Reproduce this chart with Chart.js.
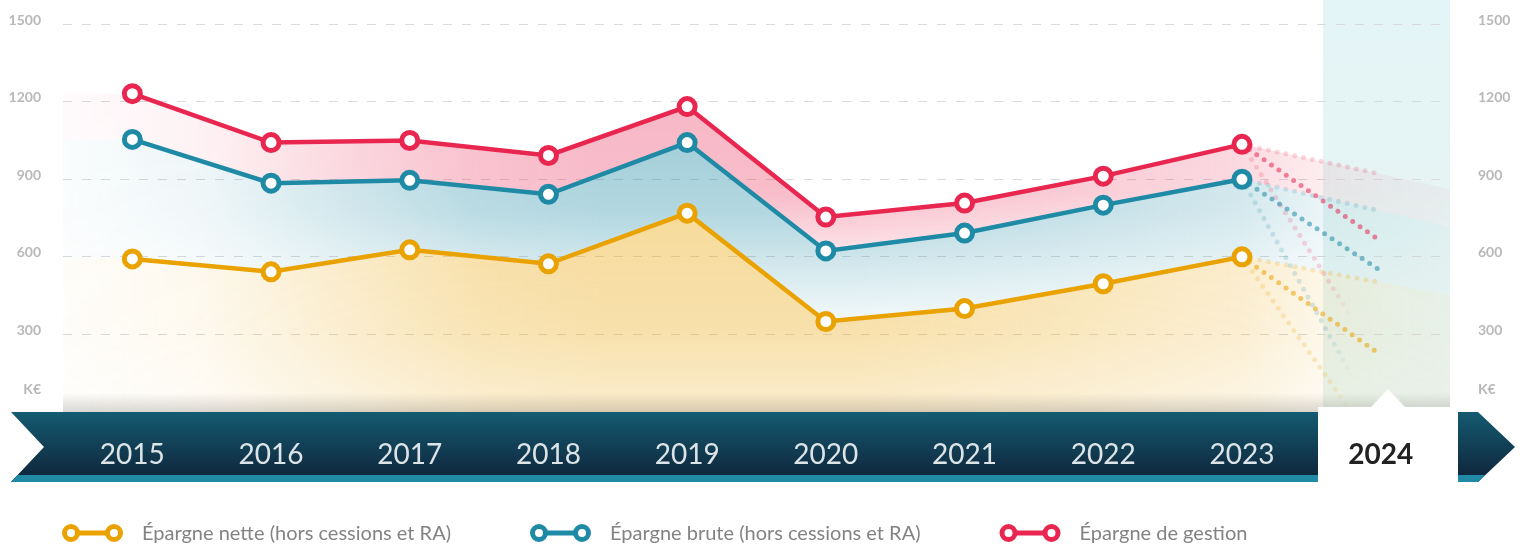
<!DOCTYPE html>
<html>
<head>
<meta charset="utf-8">
<script src="https://cdn.jsdelivr.net/npm/chart.js@4/dist/chart.umd.min.js"></script>
<style>
html, body { margin: 0; padding: 0; background: #fff; }
#wrap { width: 1520px; height: 544px; position: relative; }
</style>
</head>
<body>
<div id="wrap"><canvas id="epargneChart"></canvas></div>
<script>
const years = ["2015", "2016", "2017", "2018", "2019", "2020", "2021", "2022", "2023", "2024"];

const nette = [592, 542, 627, 573, 769, 350, 400, 496, 600];
const brute = [1054, 885, 896, 842, 1042, 623, 692, 800, 900];
const gestion = [1231, 1042, 1050, 992, 1181, 754, 808, 912, 1035];

// 2024 : prévision centrale, haute, basse
const netteProj = [221, 501, -160];
const bruteProj = [546, 777, -57];
const gestionProj = [661, 920, 190];

const yTickValues = [300, 600, 900, 1200, 1500];

const seriesNames = [
  "Épargne nette (hors cessions et RA)",
  "Épargne brute (hors cessions et RA)",
  "Épargne de gestion"
];

const ORANGE = "233,162,0";
const BLUE = "31,138,165";
const RED = "232,38,80";

const X_MIN = -0.5;
const X_MAX = 9.5;
const Y_MAX = 1543;
const KE_TICK = 70;
const LAST = nette.length - 1;

const rgba = (rgb, a) => "rgba(" + rgb + "," + a + ")";

// fondu horizontal commun aux aires
const fadeX = [
  [0, 0.06], [0.1, 0.2], [0.21, 0.6], [0.3, 0.9], [0.39, 1],
  [0.57, 1], [0.71, 0.8], [0.85, 0.55], [0.91, 0.25], [1, 0.12]
];

function bandFill(rgb, alpha, fadeY) {
  let cache = null;
  let cacheKey = "";
  return (c) => {
    const chart = c.chart;
    const area = chart.chartArea;
    if (!area) return "rgba(0,0,0,0)";
    const key = chart.width + "x" + area.top + "x" + area.bottom;
    if (cache && cacheKey === key) return cache;
    const off = document.createElement("canvas");
    off.width = chart.width;
    off.height = chart.height;
    const g = off.getContext("2d");
    const hg = g.createLinearGradient(area.left, 0, area.right, 0);
    fadeX.forEach(([t, a]) => hg.addColorStop(t, rgba(rgb, (a * alpha).toFixed(3))));
    g.fillStyle = hg;
    g.fillRect(0, 0, off.width, off.height);
    g.globalCompositeOperation = "destination-in";
    const vg = g.createLinearGradient(0, area.top, 0, area.bottom);
    fadeY.forEach(([t, a]) => vg.addColorStop(t, "rgba(0,0,0," + a + ")"));
    g.fillStyle = vg;
    g.fillRect(0, 0, off.width, off.height);
    cache = chart.ctx.createPattern(off, "no-repeat");
    cacheKey = key;
    return cache;
  };
}

function fillData(values, proj) {
  const slope = proj[1] - values[LAST];
  return [{x: X_MIN, y: values[0]}]
    .concat(values.map((v, i) => ({x: i, y: v})))
    .concat([{x: X_MAX, y: values[LAST] + slope * (X_MAX - LAST)}]);
}

function fadeStroke(c, rgb, alpha) {
  const chart = c.chart;
  const x = chart.scales.x;
  if (!chart.chartArea || !x) return rgba(rgb, alpha);
  const g = chart.ctx.createLinearGradient(
    x.getPixelForValue(LAST), 0, x.getPixelForValue(LAST + 1), 0
  );
  g.addColorStop(0, rgba(rgb, alpha));
  g.addColorStop(0.6, rgba(rgb, alpha));
  g.addColorStop(0.8, rgba(rgb, 0));
  g.addColorStop(1, rgba(rgb, 0));
  return g;
}

function dotted(values, p, rgb, alpha, fade) {
  return {
    data: [{x: LAST, y: values[LAST]}, {x: LAST + 1, y: p}],
    borderColor: fade ? (c) => fadeStroke(c, rgb, alpha) : rgba(rgb, alpha),
    borderWidth: 5,
    borderDash: [0, 9],
    borderCapStyle: "round",
    pointRadius: 0,
    fill: false,
    order: 2
  };
}

function mainLine(label, values, rgb) {
  return {
    label: label,
    data: values.map((v, i) => ({x: i, y: v})),
    borderColor: rgba(rgb, 1),
    borderWidth: 4.5,
    pointRadius: 8,
    pointBorderWidth: 5,
    pointBackgroundColor: "#fff",
    pointBorderColor: rgba(rgb, 1),
    fill: false,
    order: 1
  };
}

const decorPlugin = {
  id: "decor",
  beforeDraw(chart) {
    const {ctx, chartArea: a, width} = chart;
    const top = a.bottom;
    const bot = a.bottom + 70;
    const mid = (top + bot) / 2;
    ctx.save();
    // colonne 2024, jusqu'en haut du canevas
    const colL = a.right - 127;
    let g = ctx.createLinearGradient(0, 0, 0, a.bottom);
    g.addColorStop(0, "#e4f5f7");
    g.addColorStop(1, "#e8f3ef");
    ctx.fillStyle = g;
    ctx.fillRect(colL, 0, a.right - colL, a.bottom);
    // bandeau des années
    ctx.beginPath();
    ctx.moveTo(11, top);
    ctx.lineTo(width - 42, top);
    ctx.lineTo(width - 5, mid);
    ctx.lineTo(width - 42, bot);
    ctx.lineTo(11, bot);
    ctx.lineTo(44, mid);
    ctx.closePath();
    g = ctx.createLinearGradient(0, top, 0, bot);
    g.addColorStop(0, "#145b71");
    g.addColorStop(1, "#0f2238");
    ctx.fillStyle = g;
    ctx.fill();
    ctx.clip();
    ctx.fillStyle = "#2089a6";
    ctx.fillRect(0, bot - 7, width, 7);
    ctx.restore();
    // case 2024
    ctx.fillStyle = "#fff";
    ctx.fillRect(a.right - 132, top, 140, 80);
  },
  afterDatasetsDraw(chart) {
    const {ctx, chartArea: a} = chart;
    ctx.save();
    const g = ctx.createLinearGradient(0, a.bottom - 19, 0, a.bottom);
    g.addColorStop(0, "rgba(70,60,50,0)");
    g.addColorStop(1, "rgba(70,60,50,0.2)");
    ctx.fillStyle = g;
    ctx.fillRect(a.left, a.bottom - 19, a.right - a.left, 19);
    const cx = a.right - 62;
    ctx.fillStyle = "#fff";
    ctx.fillRect(a.right - 132, a.bottom - 5, 140, 6);
    ctx.beginPath();
    ctx.moveTo(cx - 17, a.bottom - 5);
    ctx.lineTo(cx, a.bottom - 23);
    ctx.lineTo(cx + 17, a.bottom - 5);
    ctx.closePath();
    ctx.fill();
    ctx.restore();
  },
  afterDraw(chart) {
    const {ctx, chartArea: a} = chart;
    const items = [[seriesNames[0], ORANGE], [seriesNames[1], BLUE], [seriesNames[2], RED]];
    const y = chart.height - 11;
    let x = a.left;
    ctx.save();
    ctx.font = "20px Lato";
    ctx.textBaseline = "middle";
    items.forEach(([label, rgb]) => {
      ctx.strokeStyle = rgba(rgb, 1);
      ctx.lineWidth = 5;
      ctx.beginPath();
      ctx.moveTo(x + 8, y);
      ctx.lineTo(x + 51, y);
      ctx.stroke();
      [x + 8, x + 51].forEach((px) => {
        ctx.beginPath();
        ctx.arc(px, y, 6.5, 0, Math.PI * 2);
        ctx.fillStyle = "#fff";
        ctx.fill();
        ctx.stroke();
      });
      ctx.fillStyle = "#838383";
      ctx.fillText(label, x + 79, y + 1);
      x += 79 + ctx.measureText(label).width + 80;
    });
    ctx.restore();
  }
};

// largeur fixe des axes verticaux, sans marge haute ni basse
const fixAxis = (w) => (s) => {
  s.width = w;
  s.paddingTop = 0;
  s.paddingBottom = 0;
};

Chart.defaults.font.family = "Lato";

new Chart(document.getElementById("epargneChart"), {
  type: "line",
  data: {
    datasets: [
      {
        data: fillData(nette, netteProj),
        fill: "origin",
        backgroundColor: bandFill(ORANGE, 0.38, [[0, 1], [0.55, 1], [0.8, 0.85], [1, 0.5]]),
        borderColor: "rgba(0,0,0,0)",
        borderWidth: 0,
        pointRadius: 0,
        order: 3
      },
      {
        data: fillData(brute, bruteProj),
        fill: "-1",
        backgroundColor: bandFill(BLUE, 0.4, [[0, 1], [0.35, 1], [0.5, 0.85], [0.63, 0.5], [0.78, 0.12], [1, 0.05]]),
        borderColor: "rgba(0,0,0,0)",
        borderWidth: 0,
        pointRadius: 0,
        order: 3
      },
      {
        data: fillData(gestion, gestionProj),
        fill: "-1",
        backgroundColor: bandFill(RED, 0.34, [[0, 1], [0.45, 0.9], [0.62, 0.3], [1, 0.1]]),
        borderColor: "rgba(0,0,0,0)",
        borderWidth: 0,
        pointRadius: 0,
        order: 3
      },
      dotted(nette, netteProj[0], ORANGE, 0.55, false),
      dotted(nette, netteProj[1], ORANGE, 0.2, false),
      dotted(nette, netteProj[2], ORANGE, 0.2, true),
      dotted(brute, bruteProj[0], BLUE, 0.55, false),
      dotted(brute, bruteProj[1], BLUE, 0.18, false),
      dotted(brute, bruteProj[2], BLUE, 0.18, true),
      dotted(gestion, gestionProj[0], RED, 0.55, false),
      dotted(gestion, gestionProj[1], RED, 0.18, false),
      dotted(gestion, gestionProj[2], RED, 0.18, true),
      mainLine(seriesNames[0], nette, ORANGE),
      mainLine(seriesNames[1], brute, BLUE),
      mainLine(seriesNames[2], gestion, RED)
    ]
  },
  options: {
    responsive: true,
    maintainAspectRatio: false,
    animation: false,
    events: [],
    layout: { padding: 0 },
    plugins: {
      legend: { display: false },
      tooltip: { enabled: false }
    },
    scales: {
      x: {
        type: "linear",
        min: X_MIN,
        max: X_MAX,
        afterBuildTicks: (s) => { s.ticks = years.map((_, i) => ({value: i})); },
        afterFit: (s) => { s.height = 132; s.paddingLeft = 0; s.paddingRight = 0; },
        grid: { display: false },
        border: { display: false },
        ticks: {
          autoSkip: false,
          maxRotation: 0,
          padding: 18,
          callback: (v) => years[v],
          color: (c) => c.index === years.length - 1 ? "#222" : "#dde4e8",
          font: (c) => ({
            family: "Lato",
            size: 28,
            weight: c.index === years.length - 1 ? "bold" : "normal"
          })
        }
      },
      y: {
        position: "left",
        min: 0,
        max: Y_MAX,
        afterBuildTicks: (s) => { s.ticks = [KE_TICK].concat(yTickValues).map((v) => ({value: v})); },
        afterFit: fixAxis(63),
        grid: {
          drawTicks: false,
          color: (c) => c.tick && c.tick.value === KE_TICK ? "rgba(0,0,0,0)" : "#dadada"
        },
        border: { display: false, dash: [9, 10] },
        ticks: {
          padding: 22,
          labelOffset: -4,
          color: "#b8b8b8",
          font: { family: "Lato", size: 14, weight: "bold" },
          callback: (v) => v === KE_TICK ? "K€" : v
        }
      },
      y2: {
        position: "right",
        min: 0,
        max: Y_MAX,
        afterBuildTicks: (s) => { s.ticks = [KE_TICK].concat(yTickValues).map((v) => ({value: v})); },
        afterFit: fixAxis(70),
        grid: { display: false, drawTicks: false },
        border: { display: false },
        ticks: {
          padding: 28,
          labelOffset: -4,
          color: "#b8b8b8",
          font: { family: "Lato", size: 14, weight: "bold" },
          callback: (v) => v === KE_TICK ? "K€" : v
        }
      }
    }
  },
  plugins: [decorPlugin]
});
</script>
</body>
</html>
